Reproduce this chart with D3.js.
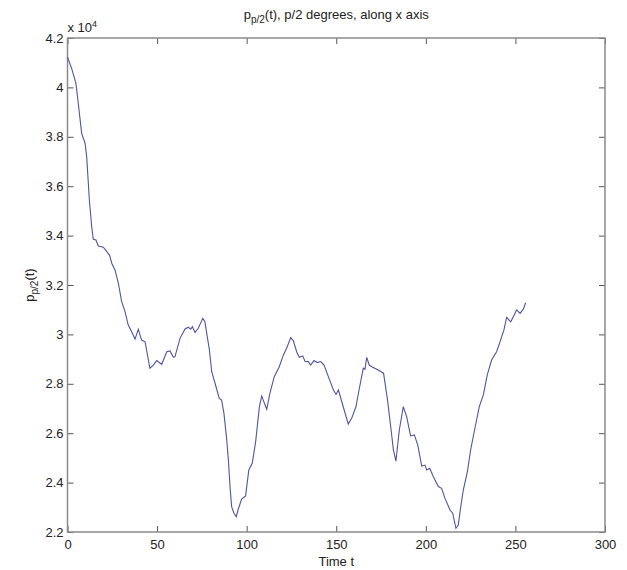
<!DOCTYPE html>
<html>
<head>
<meta charset="utf-8">
<script src="https://cdn.jsdelivr.net/npm/d3@7"></script>
<style>
  body { margin: 0; background: #fff; }
  text { font-family: "Liberation Sans", Arial, sans-serif; }
</style>
</head>
<body>
<div id="chart"></div>
<script>
// time samples and values (in units of 10^4)
const times = [0, 2.3, 4.7, 6, 7.9, 9.8, 10.7, 12.2, 13.5, 14.4, 15.9, 17.2, 20, 23.5, 24.7, 26.5, 28.4, 30.2,
  32.1, 33.9, 35.8, 37.7, 39.5, 41.4, 43.3, 46, 47.9, 49.8, 52.6, 55.4, 57.2, 59.1, 60, 62.8, 65.6, 67.4,
  68.8, 69.7, 71.2, 73, 75.5, 76.7, 79.2, 80.5, 82.9, 84.7, 86, 87.3, 88.8, 89.8, 90.7, 91.6, 92.9, 94.2,
  95.3, 97.2, 99.4, 101.2, 103.1, 105, 107.1, 108.4, 109.9, 111.2, 113, 115.4, 118.2, 120.5, 122.3, 124.6,
  126, 127.9, 129.4, 131.3, 132.6, 134.4, 135.7, 137.6, 139.4, 141.3, 143.2, 145.6, 148.4, 149.9, 151.2,
  153.9, 156.7, 158.6, 161, 162.9, 165.1, 166, 167, 168.4, 170.3, 172.6, 176.4, 178.6, 180.5, 181.9, 183.3,
  185.2, 187.4, 189.3, 191.5, 193.6, 195.5, 197.7, 199.5, 200.5, 202.2, 204.2, 207, 208.8, 210.7, 213.5,
  215, 216.8, 218.1, 219.5, 220.9, 223.2, 225, 227.4, 229.8, 232.1, 234.3, 236.7, 239.5, 241.4, 243.6,
  245.1, 247.4, 250.7, 252.6, 254.4, 255.7];
const values = [4.122, 4.077, 4.017, 3.936, 3.814, 3.774, 3.72, 3.544, 3.436, 3.385, 3.382, 3.358, 3.353, 3.32,
  3.288, 3.261, 3.207, 3.134, 3.092, 3.038, 3.011, 2.981, 3.021, 2.977, 2.97, 2.863, 2.876, 2.894, 2.879,
  2.93, 2.933, 2.907, 2.91, 2.984, 3.022, 3.029, 3.021, 3.031, 3.008, 3.025, 3.065, 3.051, 2.937, 2.849,
  2.788, 2.741, 2.734, 2.681, 2.579, 2.492, 2.384, 2.303, 2.276, 2.262, 2.292, 2.333, 2.346, 2.451, 2.478,
  2.565, 2.707, 2.751, 2.721, 2.697, 2.762, 2.829, 2.869, 2.917, 2.944, 2.987, 2.975, 2.93, 2.907, 2.913,
  2.89, 2.89, 2.876, 2.894, 2.886, 2.89, 2.876, 2.829, 2.775, 2.757, 2.775, 2.707, 2.637, 2.66, 2.707,
  2.782, 2.863, 2.859, 2.907, 2.876, 2.867, 2.859, 2.843, 2.735, 2.62, 2.532, 2.487, 2.613, 2.707, 2.667,
  2.589, 2.593, 2.552, 2.467, 2.471, 2.451, 2.458, 2.424, 2.384, 2.377, 2.336, 2.289, 2.276, 2.215, 2.228,
  2.303, 2.37, 2.444, 2.532, 2.62, 2.707, 2.755, 2.836, 2.896, 2.93, 2.97, 3.018, 3.069, 3.051, 3.099,
  3.085, 3.102, 3.128];
const xTicks = [0, 50, 100, 150, 200, 250, 300];
const yTicks = [2.2, 2.4, 2.6, 2.8, 3, 3.2, 3.4, 3.6, 3.8, 4, 4.2];

const W = 627, H = 570;
const margin = {t: 38, r: 22, b: 38, l: 67.5};
const width = W - margin.l - margin.r;
const height = H - margin.t - margin.b;

const svg = d3.select('#chart').append('svg').attr('width', W).attr('height', H);
const g = svg.append('g').attr('transform', `translate(${margin.l},${margin.t})`);

const xScale = d3.scaleLinear().domain([0, 300]).range([0, width]);
const yScale = d3.scaleLinear().domain([2.2, 4.2]).range([height, 0]);

const frameCol = '#8a8a8a';
const tickCol = '#555';

// axes (matlab style: inward ticks on all four sides)
const styleAxis = sel => {
  sel.select('.domain').remove();
  sel.selectAll('.tick line').attr('stroke', tickCol);
  sel.selectAll('.tick text').attr('fill', '#222').style('font-size', '13px');
};
g.append('g').attr('transform', `translate(0,${height})`)
  .call(d3.axisBottom(xScale).tickValues(xTicks).tickSizeInner(-6).tickSizeOuter(0).tickPadding(8))
  .call(styleAxis);
g.append('g')
  .call(d3.axisTop(xScale).tickValues(xTicks).tickSizeInner(-6).tickSizeOuter(0).tickFormat(''))
  .call(styleAxis);
g.append('g')
  .call(d3.axisLeft(yScale).tickValues(yTicks).tickSizeInner(-6).tickSizeOuter(0).tickPadding(4)
    .tickFormat(d => d3.format('')(+d.toFixed(1))))
  .call(styleAxis);
g.append('g').attr('transform', `translate(${width},0)`)
  .call(d3.axisRight(yScale).tickValues(yTicks).tickSizeInner(-6).tickSizeOuter(0).tickFormat(''))
  .call(styleAxis);

// box
g.append('rect').attr('width', width).attr('height', height)
  .attr('fill', 'none').attr('stroke', frameCol).attr('stroke-width', 1.5);

// data line
const line = d3.line().x((d, i) => xScale(times[i])).y(d => yScale(d));
g.append('path').datum(values).attr('d', line)
  .attr('fill', 'none').attr('stroke', '#50559e').attr('stroke-width', 1.1);

// exponent label
const ex = svg.append('text').attr('x', margin.l).attr('y', 32).style('font-size', '13px').attr('fill', '#222');
ex.append('tspan').text('x 10');
ex.append('tspan').attr('dy', -5).style('font-size', '9px').text('4');

// title
const title = svg.append('text').attr('x', margin.l + width / 2).attr('y', 19)
  .attr('text-anchor', 'middle').style('font-size', '13px').attr('fill', '#222');
title.append('tspan').text('p');
title.append('tspan').attr('dy', 4).style('font-size', '10px').text('p/2');
title.append('tspan').attr('dy', -4).text('(t), p/2 degrees, along x axis');

// x label
svg.append('text').attr('x', margin.l + width / 2).attr('y', 566)
  .attr('text-anchor', 'middle').style('font-size', '13px').attr('fill', '#222').text('Time t');

// y label
const yl = svg.append('text').attr('transform', `translate(34,${margin.t + height / 2}) rotate(-90)`)
  .attr('text-anchor', 'middle').style('font-size', '13px').attr('fill', '#222');
yl.append('tspan').text('p');
yl.append('tspan').attr('dy', 4).style('font-size', '10px').text('p/2');
yl.append('tspan').attr('dy', -4).text('(t)');
</script>
</body>
</html>
